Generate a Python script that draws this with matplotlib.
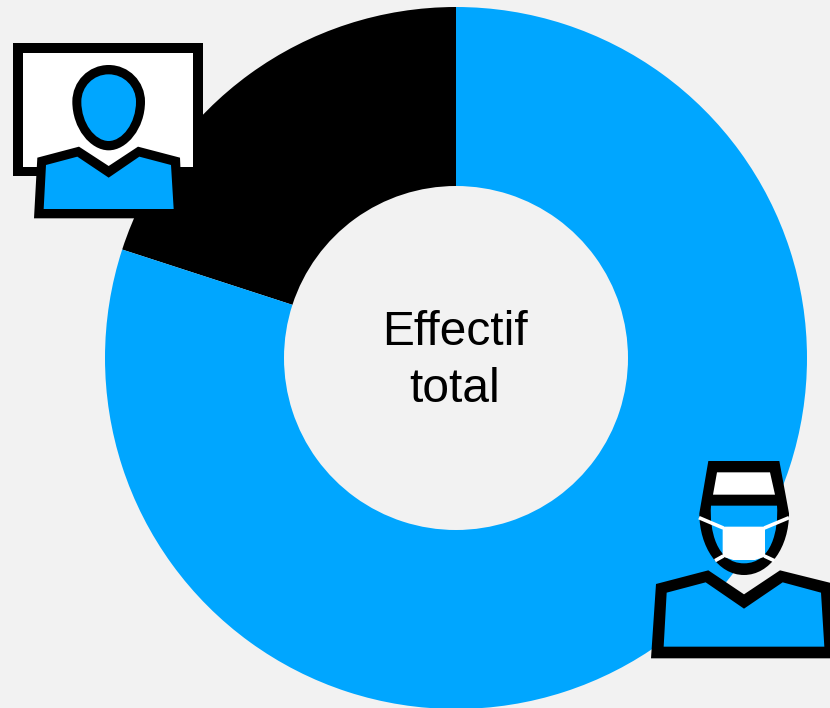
import matplotlib
matplotlib.use("Agg")
import matplotlib.pyplot as plt
from matplotlib.patches import Polygon, PathPatch
from matplotlib.path import Path

categories = ["Personnel administratif", "Personnel soignant"]
values = [20, 80]
colors = ["#000000", "#00A6FF"]
center_lines = ["Effectif", "total"]
BG = "#F2F2F2"
BLUE = colors[1]

fig = plt.figure(figsize=(8.30, 7.08), dpi=100, facecolor=BG)

# Donut
ax = fig.add_axes([0, 0, 1, 1])
ax.pie(values, colors=colors, startangle=90, counterclock=True, radius=351,
       wedgeprops=dict(width=179, linewidth=0))
ax.set_xlim(-456, 374)
ax.set_ylim(-350, 358)
ax.set_aspect("equal")
ax.axis("off")

# Overlay in pixel coordinates for the text and pictograms
ov = fig.add_axes([0, 0, 1, 1])
ov.set_xlim(0, 830)
ov.set_ylim(708, 0)
ov.axis("off")
ov.patch.set_alpha(0)

ov.text(455, 345, center_lines[0], ha="center", va="baseline", fontsize=34.5,
        family="Liberation Sans", color="black")
ov.text(455, 402, center_lines[1], ha="center", va="baseline", fontsize=34.5,
        family="Liberation Sans", color="black")


def zm(points, ox, oy):
    return [(ox + x / 3, oy + y / 3) for x, y in points]


def poly(points, ox, oy, color, z=3):
    ov.add_patch(Polygon(zm(points, ox, oy), closed=True, fc=color, ec="none", zorder=z))


def curve(verts, codes, ox, oy, color, z=3):
    ov.add_patch(PathPatch(Path(zm(verts, ox, oy), codes), fc=color, ec="none", zorder=z))


M, L, C, Z = Path.MOVETO, Path.LINETO, Path.CURVE4, Path.CLOSEPOLY

# ---- Screen / office worker pictogram
ox, oy = 0, 30
poly([(40, 40), (608, 40), (608, 438), (40, 438)], ox, oy, "black", 3)
poly([(68, 68), (580, 68), (580, 412), (68, 412)], ox, oy, "white", 3.1)


def egg(cx, top, bottom, half, mid):
    verts = [(cx, top),
             (cx + half * 0.56, top), (cx + half, mid - (mid - top) * 0.55), (cx + half, mid),
             (cx + half, mid + (bottom - mid) * 0.55), (cx + half * 0.5, bottom), (cx, bottom),
             (cx - half * 0.5, bottom), (cx - half, mid + (bottom - mid) * 0.55), (cx - half, mid),
             (cx - half, mid - (mid - top) * 0.55), (cx - half * 0.56, top), (cx, top),
             (cx, top)]
    codes = [M, C, C, C, C, C, C, C, C, C, C, C, C, Z]
    return verts, codes


v, c = egg(326, 105, 361, 109, 215)
curve(v, c, ox, oy, "black", 3.2)
v, c = egg(326, 133, 333, 82, 215)
curve(v, c, ox, oy, BLUE, 3.3)
poly([(112, 383), (237, 350), (326, 408), (414, 350), (540, 383), (548, 565), (102, 565)],
     ox, oy, "black", 3.4)
poly([(138, 405), (232, 380), (326, 443), (418, 380), (513, 405), (521, 537), (131, 537)],
     ox, oy, BLUE, 3.5)

# ---- Surgeon pictogram
ox, oy = 640, 450
curve([(205, 33), (418, 33), (447, 190), (447, 290), (390, 375), (312, 375),
       (234, 375), (178, 290), (178, 190), (205, 33), (205, 33)],
      [M, L, L, C, C, C, C, C, C, L, Z], ox, oy, "black", 3)
curve([(213, 167), (411, 167), (416, 240), (395, 340), (312, 340),
       (229, 340), (208, 240), (213, 167), (213, 167)],
      [M, L, C, C, C, C, C, L, Z], ox, oy, BLUE, 3.1)
poly([(231, 67), (390, 67), (405, 134), (219, 134)], ox, oy, "white", 3.2)
# mask and straps
poly([(248, 230), (375, 230), (375, 320), (345, 330), (280, 330), (248, 320)], ox, oy, "white", 3.3)
for a, b in [((177, 203), (250, 234)), ((373, 234), (447, 203)),
             ((225, 332), (250, 318)), ((373, 318), (403, 332))]:
    ov.plot(*zip(*zm([a, b], ox, oy)), color="white", lw=2.6, solid_capstyle="butt", zorder=3.4)
poly([(48, 402), (205, 361), (312, 433), (420, 361), (585, 402), (595, 625), (33, 625)],
     ox, oy, "black", 3.5)
poly([(80, 428), (197, 397), (312, 476), (428, 397), (543, 428), (553, 590), (71, 590)],
     ox, oy, BLUE, 3.6)

fig.savefig("out.png", dpi=100, facecolor=BG)
